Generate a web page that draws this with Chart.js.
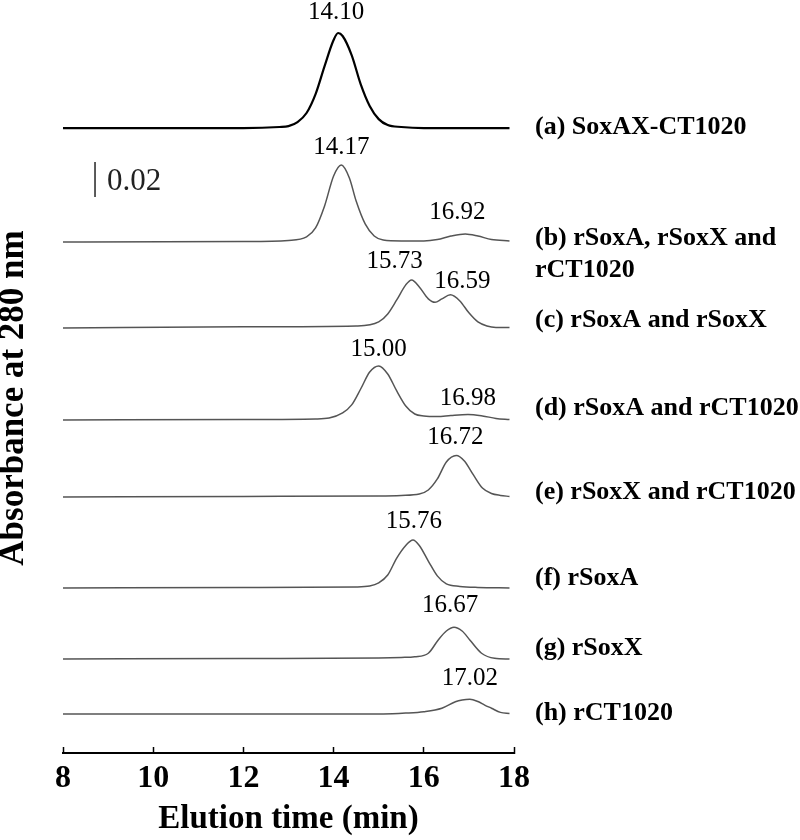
<!DOCTYPE html>
<html lang="en">
<head>
<meta charset="UTF-8">
<title>Elution profiles</title>
<script src="https://cdn.jsdelivr.net/npm/chart.js@4.4.1/dist/chart.umd.min.js"></script>
<style>
  html, body { margin: 0; padding: 0; background: #fff; }
  canvas { display: block; }
</style>
</head>
<body>
<canvas id="chart" width="800" height="840"></canvas>
<script>
// elution time (min) and absorbance above each trace's own baseline (AU)
const timeA = [8, 12, 12.8, 13.0, 13.2, 13.4, 13.6, 13.8, 14.0, 14.1, 14.2, 14.4, 14.6, 14.8, 15.0, 15.2, 15.5, 16.0, 17.9];
const absA  = [0, 0, 0.0006, 0.0011, 0.0034, 0.0086, 0.0194, 0.0354, 0.0503, 0.0543, 0.0526, 0.0417, 0.0251, 0.0126, 0.0051, 0.0017, 0.0006, 0, 0];

const timeB = [8, 12, 13.0, 13.4, 13.6, 13.8, 14.0, 14.17, 14.35, 14.5, 14.7, 14.9, 15.1, 15.5, 16.0, 16.3, 16.6, 16.92, 17.2, 17.5, 17.9];
const absB  = [0, 0.0003, 0.0009, 0.0029, 0.008, 0.0206, 0.0377, 0.044, 0.0366, 0.0234, 0.0103, 0.0034, 0.0011, 0.0006, 0.0006, 0.0014, 0.0034, 0.0046, 0.0034, 0.0014, 0.0006];

const timeC = [8, 12, 14.5, 15.0, 15.2, 15.4, 15.6, 15.73, 15.9, 16.1, 16.25, 16.4, 16.59, 16.8, 17.0, 17.2, 17.4, 17.6, 17.9];
const absC  = [0, 0.0006, 0.0011, 0.0034, 0.008, 0.016, 0.0246, 0.0274, 0.0234, 0.0166, 0.0146, 0.0166, 0.0189, 0.0154, 0.0086, 0.0034, 0.0011, 0.0003, 0.0003];

const timeD = [8, 12, 13.6, 13.9, 14.2, 14.4, 14.6, 14.8, 15.0, 15.2, 15.4, 15.6, 15.8, 16.0, 16.3, 16.6, 16.98, 17.3, 17.6, 17.9];
const absD  = [0, 0.0003, 0.0006, 0.0011, 0.004, 0.0086, 0.0177, 0.0274, 0.0309, 0.0263, 0.0166, 0.008, 0.0034, 0.0023, 0.002, 0.0026, 0.0031, 0.0023, 0.0009, 0.0003];

const timeE = [8, 12, 15.0, 15.5, 15.9, 16.1, 16.3, 16.5, 16.72, 16.9, 17.1, 17.3, 17.5, 17.7, 17.9];
const absE  = [0, 0.0003, 0.0006, 0.0009, 0.0017, 0.004, 0.0103, 0.02, 0.0237, 0.0206, 0.0126, 0.0051, 0.002, 0.0009, 0.0003];

const timeF = [8, 12, 14.5, 14.8, 15.0, 15.2, 15.4, 15.6, 15.76, 15.9, 16.1, 16.3, 16.5, 16.8, 17.2, 17.9];
const absF  = [0, 0.0003, 0.0006, 0.0011, 0.0029, 0.0074, 0.0171, 0.0243, 0.0274, 0.0243, 0.0154, 0.0069, 0.0023, 0.0009, 0.0003, 0];

const timeG = [8, 12, 15.0, 15.5, 15.8, 16.1, 16.32, 16.5, 16.67, 16.85, 17.02, 17.28, 17.57, 17.9];
const absG  = [0, 0.0003, 0.0006, 0.0009, 0.0013, 0.0033, 0.0109, 0.016, 0.0181, 0.016, 0.0109, 0.0033, 0.0004, 0];

const timeH = [8, 12, 15.1, 15.6, 16.0, 16.4, 16.7, 16.85, 17.02, 17.2, 17.35, 17.5, 17.7, 17.9];
const absH  = [0, 0, 0, 0.0005, 0.0013, 0.0033, 0.007, 0.008, 0.0084, 0.0071, 0.0051, 0.0033, 0.0009, 0.0003];

const seriesNames = [
  '(a) SoxAX-CT1020',
  ['(b) rSoxA, rSoxX and', 'rCT1020'],
  '(c) rSoxA and rSoxX',
  '(d) rSoxA and rCT1020',
  '(e) rSoxX and rCT1020',
  '(f) rSoxA',
  '(g) rSoxX',
  '(h) rCT1020'
];

// retention times printed over the peaks
const peakSeries = [0, 1, 1, 2, 2, 3, 3, 4, 5, 6, 7];
const peakTime   = [14.10, 14.17, 16.92, 15.73, 16.59, 15.00, 16.98, 16.72, 15.76, 16.67, 17.02];

const xTickStep = 2;
const scaleBar = 0.02; // AU

// layout: vertical stacking of the traces (AU) and label nudges (px)
const baselineShift = [0.3571, 0.2920, 0.2429, 0.1903, 0.1463, 0.0943, 0.0537, 0.0223];
const nameDy = [-1, -4, -8, -12, -5, -10, -11, -1];
const peakDx = [-2, 0, -8, -17, 12, 0, 0, -1, 1, -4, 0];
const peakDy = [-21, -18, -21, -19, -13, -16, -16, -18, -19, -22, -21];

const traceTimes = [timeA, timeB, timeC, timeD, timeE, timeF, timeG, timeH];
const traceAbs = [absA, absB, absC, absD, absE, absF, absG, absH];

const serif = '"Liberation Serif", "Times New Roman", serif';

const datasets = traceTimes.map((ts, i) => ({
  data: ts.map((t, j) => ({ x: t, y: baselineShift[i] + traceAbs[i][j] })),
  showLine: true,
  borderColor: i === 0 ? '#000' : '#555',
  borderWidth: i === 0 ? 2.2 : 1.5,
  pointRadius: 0,
  cubicInterpolationMode: 'monotone',
  clip: false
}));

const annotate = {
  id: 'annotate',
  afterDatasetsDraw(chart) {
    const { ctx, chartArea, scales: { x, y } } = chart;
    ctx.save();

    // trace names
    ctx.fillStyle = '#000';
    ctx.font = 'bold 26px ' + serif;
    ctx.textAlign = 'left';
    ctx.textBaseline = 'middle';
    seriesNames.forEach((name, i) => {
      const lines = Array.isArray(name) ? name : [name];
      const y0 = y.getPixelForValue(baselineShift[i]) + nameDy[i];
      lines.forEach((line, k) => ctx.fillText(line, chartArea.right + 21, y0 + k * 32));
    });

    // peak retention times
    ctx.font = '25px ' + serif;
    ctx.textAlign = 'center';
    peakTime.forEach((t, k) => {
      const s = peakSeries[k];
      const j = traceTimes[s].indexOf(t);
      const v = baselineShift[s] + traceAbs[s][j];
      ctx.fillText(t.toFixed(2), x.getPixelForValue(t) + peakDx[k], y.getPixelForValue(v) + peakDy[k]);
    });

    // 0.02 AU scale bar
    const bx = x.getPixelForValue(8.71);
    const yb = y.getPixelForValue(0.3177);
    const yt = y.getPixelForValue(0.3177 + scaleBar);
    ctx.strokeStyle = '#333';
    ctx.lineWidth = 1.6;
    ctx.beginPath();
    ctx.moveTo(bx, yb);
    ctx.lineTo(bx, yt);
    ctx.stroke();
    ctx.fillStyle = '#222';
    ctx.font = '31px ' + serif;
    ctx.textAlign = 'left';
    ctx.fillText(scaleBar.toFixed(2), bx + 12, (yb + yt) / 2 + 2);

    ctx.restore();
  }
};

new Chart(document.getElementById('chart'), {
  type: 'scatter',
  data: { datasets: datasets },
  options: {
    responsive: false,
    animation: false,
    layout: { padding: { left: 0, right: 286, top: 43, bottom: 0 } },
    plugins: { legend: { display: false }, tooltip: { enabled: false } },
    scales: {
      x: {
        type: 'linear',
        position: 'bottom',
        min: 8,
        max: 18,
        ticks: {
          stepSize: xTickStep,
          autoSkip: false,
          maxRotation: 0,
          padding: 16,
          color: '#000',
          font: { family: serif, size: 32, weight: 'bold', lineHeight: 1 }
        },
        grid: { drawOnChartArea: false, tickLength: -6, tickWidth: 1.5, tickColor: '#000' },
        border: { color: '#000', width: 2 },
        title: {
          display: true,
          text: 'Elution time (min)',
          color: '#000',
          font: { family: serif, size: 33, weight: 'bold', lineHeight: 1 },
          padding: { top: -8, bottom: 4 }
        }
      },
      y: {
        min: 0,
        max: 0.4057,
        ticks: { display: false },
        grid: { display: false, drawTicks: false },
        border: { display: false },
        title: {
          display: true,
          text: 'Absorbance at 280 nm',
          color: '#000',
          font: { family: serif, size: 35, weight: 'bold', lineHeight: 1 },
          padding: { top: -4, bottom: 32 }
        }
      }
    }
  },
  plugins: [annotate]
});
</script>
</body>
</html>
